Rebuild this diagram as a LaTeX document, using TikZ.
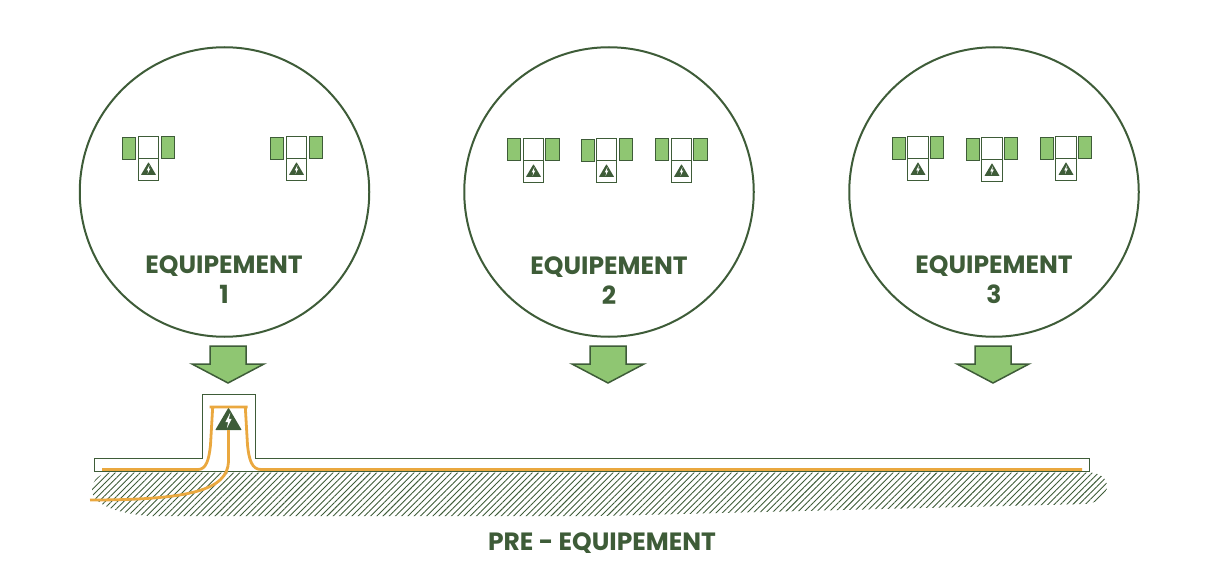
\documentclass[tikz,border=0pt]{standalone}
\usepackage{fontspec}
\setmainfont{Poppins}
\usetikzlibrary{patterns.meta}
\definecolor{darkgreen}{HTML}{3E5C38}
\definecolor{softgreen}{HTML}{8FC672}
\definecolor{cable}{HTML}{EAA83F}
\tikzstyle{bubble}=[circle, draw=darkgreen, line width=2pt, minimum size=289.5pt, inner sep=0pt]
\tikzstyle{title}=[text=darkgreen, font=\bfseries\fontsize{25}{30}\selectfont, align=center]
\tikzstyle{side}=[rectangle, fill=softgreen, draw=darkgreen, line width=1.1pt, minimum width=13.5pt, minimum height=22pt, inner sep=0pt]
\tikzstyle{cell}=[rectangle, fill=white, draw=darkgreen, line width=1.1pt, minimum width=20.5pt, minimum height=22pt, inner sep=0pt]
\tikzstyle{arrowbox}=[fill=softgreen, draw=darkgreen, line width=1.5pt, line join=miter]
\tikzstyle{thin}=[rectangle, draw=darkgreen, line width=0.9pt, inner sep=0pt]
\tikzstyle{wire}=[draw=cable, line width=2.8pt]
% warning triangle, centre of the base at (#1,#2), half width #3
\newcommand{\warnicon}[3]{
  \fill[darkgreen, rounded corners=0.5pt] (#1-#3,#2) -- (#1,#2-1.7*#3) -- (#1+#3,#2) -- cycle;
  \fill[white] (#1+0.14*#3,#2-1.32*#3) -- (#1-0.24*#3,#2-0.60*#3) -- (#1-0.03*#3,#2-0.60*#3)
    -- (#1-0.12*#3,#2-0.14*#3) -- (#1+0.24*#3,#2-0.84*#3) -- (#1+0.03*#3,#2-0.84*#3) -- cycle;
}
% left side, centre, right side, top of centre, y shift of left, y shift of right
\newcommand{\unitgroup}[7]{
  \node[side] (#1l) at (#2,#5+11+#6) {};
  \node[side] (#1r) at (#4,#5+11+#7) {};
  \node[cell] (#1t) at (#3,#5+11) {};
  \node[cell] (#1b) at (#3,#5+33) {};
  \warnicon{#3}{#5+38.7}{7.6}
}
\begin{document}
\begin{tikzpicture}[x=1pt,y=-1pt]
  \useasboundingbox (0,0) rectangle (1218,588);

  % ground first
  \fill[pattern={Lines[angle=45,distance=4.4pt,line width=0.9pt]}, pattern color=darkgreen]
    (112,472.5) -- (1088,472.5) .. controls (1100,472.5) and (1107,478) .. (1107,487)
    .. controls (1107,496) and (1098,503) .. (1085,504) -- (600,516) -- (150,516)
    .. controls (120,514) and (92,505) .. (92,490) .. controls (92,480) and (100,472.5) .. (112,472.5) -- cycle;

  \node[bubble] (c1) at (224.5,192) {};
  \node[bubble] (c2) at (609,192) {};
  \node[bubble] (c3) at (994,192) {};

  \node[title] (t1) at (224,279.5) {EQUIPEMENT\\1};
  \node[title] (t2) at (609,280.5) {EQUIPEMENT\\2};
  \node[title] (t3) at (994,279.5) {EQUIPEMENT\\3};

  \unitgroup{a}{129}{148.5}{168}{136.3}{1}{0}
  \unitgroup{b}{277}{296.5}{316}{136.3}{1}{0}
  \unitgroup{d}{514}{533.5}{552.5}{138.3}{0.5}{0}
  \unitgroup{e}{588}{606.5}{626}{138.3}{1}{0.5}
  \unitgroup{f}{662}{681.5}{700.5}{138.3}{0.5}{0}
  \unitgroup{g}{899}{918}{937}{136.3}{1}{0}
  \unitgroup{h}{973}{992}{1011}{137.3}{1}{0}
  \unitgroup{i}{1047}{1066}{1085}{136.3}{1}{0}

  % big arrows
  \foreach \name/\x in {p1/228,p2/608,p3/993}{
    \draw[arrowbox] (\x-18,346) -- (\x+18,346) -- (\x+18,364) -- (\x+36,364)
      -- (\x,383) -- (\x-36,364) -- (\x-18,364) -- cycle;
  }

  \node[thin, minimum width=53pt, minimum height=64pt] (box) at (228.8,426.3) {};
  \node[thin, minimum width=995.5pt, minimum height=13pt] (slab) at (592,465) {};
  \draw[white, line width=1.4pt] (203,458.6) -- (255,458.6);

  \warnicon{228.5}{430}{13.2}

  \coordinate (w1) at (102,469.5);
  \coordinate (w2) at (1082,469.5);
  \coordinate (w3) at (228.5,430);
  \coordinate (w4) at (90,500);
  \draw[wire] (w1) -- (198,469.5) .. controls (206,469.5) and (209,460) .. (210.5,445)
    -- (212.7,407) -- (209.5,407) -- (247.5,407) -- (245.3,407) -- (247.5,445)
    .. controls (249,460) and (252,469.5) .. (261,469.5) -- (w2);
  \draw[wire] (w3) -- (228.5,462) .. controls (227,490) and (190,500) .. (w4);

  \node[text=darkgreen, font=\bfseries\fontsize{25}{30}\selectfont] (pre) at (602,543) {PRE - EQUIPEMENT};
\end{tikzpicture}
\end{document}
